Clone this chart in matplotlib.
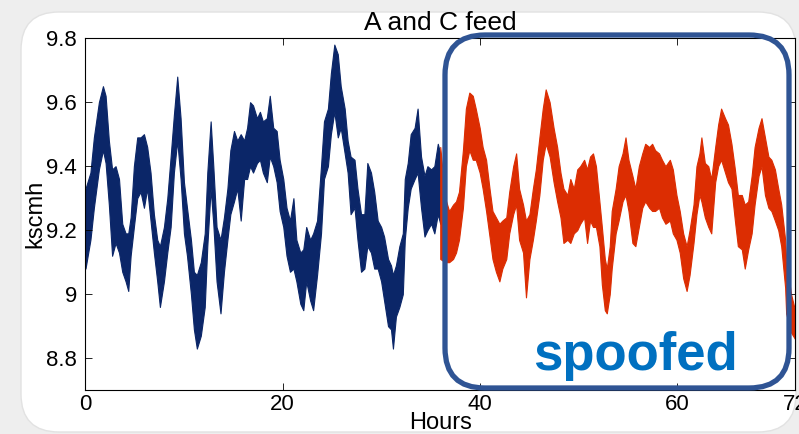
import matplotlib.pyplot as plt
from matplotlib.patches import FancyBboxPatch
from matplotlib.transforms import IdentityTransform

# envelope of the noisy flow signal (hours, kscmh)
blue_h = [0.0, 0.5, 0.85, 1.36, 1.77, 2.04, 2.37, 2.7, 3.05, 3.4, 3.73, 4.07, 4.34, 4.58,
          4.91, 5.25, 5.59, 5.93, 6.26, 6.6, 6.94, 7.28, 7.55, 7.96, 8.3, 8.64, 8.97, 9.31,
          9.65, 9.99, 10.3, 10.7, 11.0, 11.3, 11.7, 12.1, 12.36, 12.7, 12.97, 13.3, 13.7,
          14.05, 14.4, 14.7, 15.07, 15.4, 15.75, 16.1, 16.4, 16.7, 17.0, 17.4, 17.7, 18.0,
          18.4, 18.7, 19.05, 19.4, 19.7, 20.07, 20.4, 20.75, 21.1, 21.4, 21.8, 22.1, 22.4,
          22.8, 23.1, 23.5, 23.9, 24.2, 24.6, 24.9, 25.25, 25.6, 25.9, 26.3, 26.6, 26.9,
          27.3, 27.6, 27.96, 28.3, 28.6, 28.97, 29.3, 29.65, 30.0, 30.3, 30.7, 31.0, 31.2,
          31.5, 31.85, 32.2, 32.4, 32.7, 33.0, 33.4, 33.7, 34.05, 34.4, 34.7, 35.07, 35.4,
          35.75, 36.0]
blue_lo = [9.08, 9.17, 9.27, 9.39, 9.45, 9.41, 9.28, 9.12, 9.16, 9.13, 9.07, 9.04, 9.01, 9.12,
           9.21, 9.30, 9.32, 9.27, 9.33, 9.23, 9.13, 9.04, 8.96, 9.04, 9.13, 9.21, 9.38, 9.48,
           9.36, 9.19, 9.12, 9.00, 8.89, 8.83, 8.87, 8.96, 9.15, 9.33, 9.22, 9.04, 8.94,
           9.07, 9.17, 9.25, 9.29, 9.33, 9.23, 9.36, 9.36, 9.40, 9.38, 9.41, 9.42, 9.38,
           9.35, 9.43, 9.40, 9.35, 9.26, 9.21, 9.12, 9.07, 9.08, 9.04, 8.97, 8.95, 9.04,
           8.98, 8.95, 9.06, 9.19, 9.36, 9.40, 9.50, 9.57, 9.49, 9.52, 9.44, 9.38, 9.25,
           9.27, 9.17, 9.07, 9.08, 9.15, 9.13, 9.08, 9.08, 9.04, 8.98, 8.90, 8.89, 8.83,
           8.93, 8.96, 9.00, 9.17, 9.27, 9.33, 9.36, 9.38, 9.27, 9.18, 9.20, 9.22, 9.19,
           9.25, 9.22]
blue_hi = [9.33, 9.38, 9.49, 9.60, 9.65, 9.62, 9.48, 9.39, 9.40, 9.36, 9.22, 9.19, 9.19, 9.24,
           9.40, 9.49, 9.49, 9.50, 9.46, 9.38, 9.25, 9.17, 9.15, 9.21, 9.30, 9.43, 9.56, 9.68,
           9.55, 9.35, 9.27, 9.17, 9.07, 9.06, 9.10, 9.19, 9.38, 9.54, 9.40, 9.21, 9.17,
           9.24, 9.33, 9.45, 9.51, 9.48, 9.50, 9.48, 9.52, 9.60, 9.59, 9.55, 9.57, 9.54,
           9.55, 9.62, 9.52, 9.51, 9.42, 9.36, 9.27, 9.23, 9.30, 9.17, 9.13, 9.14, 9.21,
           9.17, 9.19, 9.23, 9.40, 9.54, 9.58, 9.69, 9.78, 9.75, 9.65, 9.58, 9.48, 9.43,
           9.42, 9.33, 9.25, 9.25, 9.41, 9.38, 9.32, 9.23, 9.21, 9.18, 9.11, 9.09, 9.06,
           9.09, 9.15, 9.19, 9.36, 9.41, 9.50, 9.52, 9.58, 9.43, 9.37, 9.40, 9.39, 9.40,
           9.47, 9.44]

red_h = [36.0, 36.5, 36.9, 37.3, 37.6, 37.9, 38.3, 38.6, 38.95, 39.3, 39.6, 40.0, 40.3, 40.65,
         41.0, 41.3, 41.65, 42.0, 42.3, 42.7, 43.0, 43.4, 43.7, 44.0, 44.4, 44.7, 45.05,
         45.4, 45.7, 46.06, 46.4, 46.7, 47.1, 47.5, 47.86, 48.2, 48.5, 48.9, 49.2, 49.55,
         49.9, 50.2, 50.6, 50.9, 51.2, 51.5, 51.8, 52.15, 52.4, 52.7, 52.9, 53.2, 53.4,
         53.8, 54.1, 54.5, 54.8, 55.1, 55.5, 55.8, 56.15, 56.5, 56.8, 57.2, 57.5, 57.8,
         58.2, 58.5, 58.85, 59.3, 59.6, 59.97, 60.3, 60.65, 61.0, 61.3, 61.7, 62.0, 62.3,
         62.5, 62.85, 63.2, 63.5, 63.9, 64.2, 64.5, 64.9, 65.2, 65.55, 65.9, 66.2, 66.6,
         66.9, 67.25, 67.6, 67.9, 68.3, 68.6, 68.95, 69.3, 69.6, 69.96, 70.3, 70.6, 71.0,
         71.1, 71.6, 72.0]
red_lo = [9.11, 9.10, 9.10, 9.11, 9.13, 9.17, 9.27, 9.40, 9.45, 9.42, 9.42, 9.38, 9.33, 9.26,
          9.18, 9.11, 9.07, 9.04, 9.08, 9.11, 9.19, 9.25, 9.28, 9.17, 9.13, 8.99, 9.11,
          9.17, 9.23, 9.31, 9.42, 9.47, 9.43, 9.35, 9.29, 9.24, 9.16, 9.17, 9.16, 9.19,
          9.20, 9.22, 9.24, 9.16, 9.23, 9.21, 9.21, 9.15, 9.03, 8.95, 8.94, 9.00, 9.08,
          9.19, 9.23, 9.29, 9.31, 9.26, 9.16, 9.15, 9.21, 9.27, 9.29, 9.27, 9.26, 9.26,
          9.27, 9.24, 9.22, 9.23, 9.19, 9.17, 9.13, 9.05, 9.01, 9.06, 9.16, 9.25, 9.31,
          9.29, 9.24, 9.21, 9.19, 9.35, 9.40, 9.42, 9.38, 9.35, 9.33, 9.23, 9.15, 9.14,
          9.08, 9.14, 9.19, 9.28, 9.37, 9.40, 9.31, 9.27, 9.26, 9.23, 9.20, 9.15, 9.02,
          8.94, 8.88, 8.86]
red_hi = [9.46, 9.30, 9.26, 9.28, 9.29, 9.32, 9.45, 9.58, 9.63, 9.62, 9.58, 9.52, 9.46, 9.42,
          9.33, 9.26, 9.24, 9.22, 9.23, 9.24, 9.32, 9.40, 9.44, 9.33, 9.28, 9.23, 9.25,
          9.33, 9.39, 9.49, 9.58, 9.64, 9.60, 9.52, 9.46, 9.38, 9.33, 9.31, 9.36, 9.33,
          9.39, 9.40, 9.42, 9.39, 9.43, 9.44, 9.40, 9.29, 9.21, 9.11, 9.08, 9.15, 9.26,
          9.33, 9.40, 9.44, 9.49, 9.42, 9.37, 9.33, 9.40, 9.44, 9.47, 9.46, 9.47, 9.45,
          9.44, 9.42, 9.40, 9.42, 9.39, 9.31, 9.26, 9.19, 9.15, 9.20, 9.28, 9.40, 9.44,
          9.49, 9.41, 9.40, 9.36, 9.46, 9.53, 9.58, 9.55, 9.53, 9.47, 9.39, 9.31, 9.31,
          9.28, 9.29, 9.37, 9.46, 9.52, 9.55, 9.49, 9.43, 9.42, 9.39, 9.33, 9.28, 9.17,
          9.11, 9.00, 8.95]

x_ticks = [0, 20, 40, 60, 72]
y_ticks = [8.8, 9.0, 9.2, 9.4, 9.6, 9.8]
y_tick_labels = ['8.8', '9', '9.2', '9.4', '9.6', '9.8']

plt.rcParams['font.family'] = ['Liberation Sans', 'DejaVu Sans']

fig = plt.figure(figsize=(7.99, 4.34), dpi=100)
fig.patch.set_facecolor('#eeeeee')

# white rounded panel behind everything (pixel coords)
panel = FancyBboxPatch((21, 2), 775, 420, boxstyle='round,pad=0,rounding_size=38',
                       transform=IdentityTransform(), facecolor='white',
                       edgecolor='#e2e2e2', linewidth=1, zorder=-1)
fig.patches.append(panel)

ax = fig.add_axes([0.107, 0.101, 0.888, 0.811])
navy = '#0b2668'
red = '#dc2d02'
ax.fill_between(blue_h, blue_lo, blue_hi, color=navy, linewidth=0.8, edgecolor=navy)
ax.fill_between(red_h, red_lo, red_hi, color=red, linewidth=0.8, edgecolor=red)

ax.set_xlim(0, 72)
ax.set_ylim(8.7, 9.8)
ax.set_xticks(x_ticks)
ax.set_yticks(y_ticks)
ax.set_yticklabels(y_tick_labels)
ax.tick_params(direction='in', top=True, right=True, labelsize=16, length=5, width=0.6,
               pad=3)
ax.tick_params(axis='y', pad=6)
for s in ax.spines.values():
    s.set_linewidth(0.8)
ax.set_title('A and C feed', fontsize=19, pad=6)
ax.set_xlabel('Hours', fontsize=17)
ax.xaxis.set_label_coords(0.5, -0.062)
ax.set_ylabel('kscmh', fontsize=17)
ax.yaxis.set_label_coords(-0.071, 0.5)
ax.yaxis.label.set_va('center')

# "spoofed" highlight box
box = FancyBboxPatch((445, 46), 344, 353, boxstyle='round,pad=0,rounding_size=40',
                     transform=IdentityTransform(), facecolor='none',
                     edgecolor='#2f5494', linewidth=3.8, zorder=5)
fig.patches.append(box)
fig.text(635 / 799, 1 - 370 / 434, 'spoofed', color='#0070c0', fontsize=38,
         fontweight='bold', ha='center', va='baseline', zorder=6)

fig.savefig('out.png', dpi=100, facecolor=fig.get_facecolor())
